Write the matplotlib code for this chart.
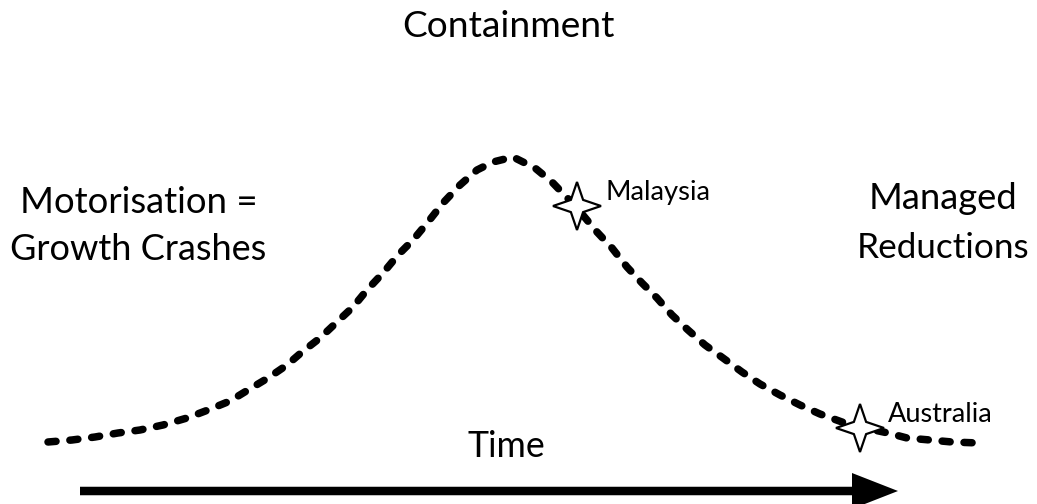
import matplotlib
matplotlib.use("Agg")
import matplotlib.pyplot as plt
from matplotlib.patches import Polygon, FancyArrow
import numpy as np

# ---- data (pixel-like units: x = time, y = level, y grows downward) ----
curve_x = [48, 72, 95, 118, 140, 163, 187, 208, 230, 248, 268, 287, 302, 320, 337,
           353, 367, 383, 398, 413, 428, 443, 460, 477, 493, 513, 535, 552, 577,
           597, 612, 627, 642, 657, 672, 688, 705, 723, 742, 760, 780, 800, 820,
           842, 860, 888, 907, 930, 952, 979]
curve_y = [442, 440, 437, 433, 430, 425, 418, 410, 401, 390, 378, 365, 352, 338, 322,
           307, 290, 273, 255, 240, 222, 203, 185, 170, 162, 157, 168, 182, 208,
           232, 248, 267, 283, 298, 315, 330, 345, 358, 372, 384, 395, 405, 414,
           422, 427, 433, 438, 440, 442, 443]

countries = ["Malaysia", "Australia"]
country_x = [577, 860]
country_y = [206, 428]

title_text = "Containment"
left_lines = ["Motorisation =", "Growth Crashes"]
right_lines = ["Managed", "Reductions"]
axis_text = "Time"

W, H = 1037, 504
plt.rcParams['font.family'] = ['Lato', 'DejaVu Sans']
plt.rcParams['lines.scale_dashes'] = False

fig = plt.figure(figsize=(W / 100, H / 100), dpi=100)
ax = fig.add_axes([0, 0, 1, 1])
ax.set_xlim(0, W)
ax.set_ylim(H, 0)
ax.axis('off')

renderer = fig.canvas.get_renderer()


def fit_text(xc, yb, s, target_w, **kw):
    t = ax.text(xc, yb, s, ha='center', va='baseline', fontsize=20, color='black', **kw)
    w = t.get_window_extent(renderer=renderer).width
    t.set_fontsize(20 * target_w / w)
    return t


# dashed curve
ax.plot(curve_x, curve_y, color='black', lw=5.4, dash_capstyle='round',
        linestyle=(0, (5.8, 10.0)), solid_capstyle='round', zorder=2)


# four-point star
def star(cx, cy, r=24, ri=0.36):
    pts = []
    for k in range(4):
        a = np.pi / 2 - k * np.pi / 2
        pts.append((cx + r * np.cos(a), cy - r * np.sin(a)))
        b = a - np.pi / 4
        pts.append((cx + ri * r * np.cos(b), cy - ri * r * np.sin(b)))
    return Polygon(pts, closed=True, facecolor='white', edgecolor='black', lw=1.6,
                   joinstyle='miter', zorder=3)


for name, cx, cy in zip(countries, country_x, country_y):
    ax.add_patch(star(cx, cy))
    fit_text(cx + 28 + 52.5, cy - 6, name, 105)

# phase labels
fit_text(508, 37, title_text, 213)
fit_text(139, 213, left_lines[0], 238)
fit_text(138, 260, left_lines[1], 257)
fit_text(943, 209, right_lines[0], 149)
fit_text(943, 258, right_lines[1], 173)
fit_text(506, 457, axis_text, 78)

# time arrow
ax.add_patch(FancyArrow(80, 491, 898 - 80, 0, width=8.5, head_width=36, head_length=46,
                        length_includes_head=True, color='black', lw=0, zorder=2))

fig.savefig("out.png", dpi=100, facecolor='white')
